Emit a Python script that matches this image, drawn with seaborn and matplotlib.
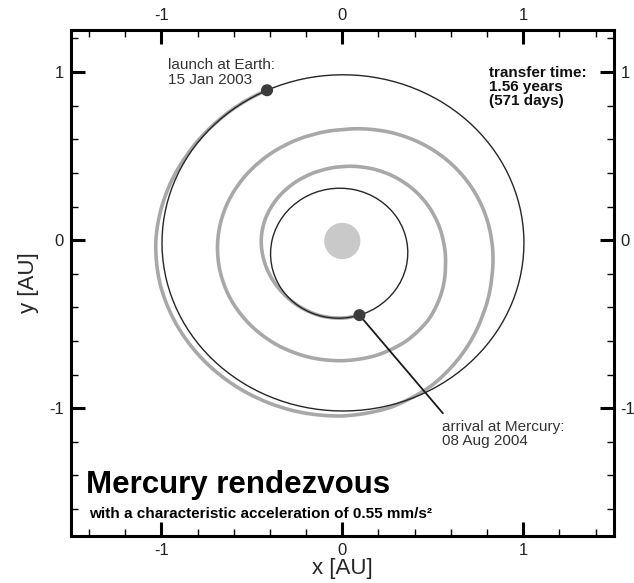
import numpy as np
import pandas as pd
import matplotlib
matplotlib.use("Agg")
import matplotlib.pyplot as plt
from matplotlib.patches import Ellipse
from matplotlib.ticker import MultipleLocator
import seaborn as sns

# ---- data -------------------------------------------------------------
# planetary orbits: semi-major axis [AU], eccentricity, longitude of perihelion [deg]
orbit_names = ["Earth", "Mercury"]
orbit_a = [1.000, 0.387]
orbit_e = [0.0167, 0.2056]
orbit_peri = [102.9, 77.5]

# sail trajectory: heliocentric longitude [deg] and radius [AU]
traj_theta = [115, 120, 135, 150, 165, 180, 195, 210, 225, 240, 255, 270,
              285, 300, 315, 330, 345, 360, 375, 390, 405, 420, 435, 450,
              465, 480, 495, 510, 525, 540, 555, 570, 585, 600, 615, 630,
              645, 660, 675, 690, 705, 720, 735, 750, 765, 780, 795, 810,
              825, 840, 855, 870, 885, 900, 915, 930, 945, 960, 975, 990, 1002]
traj_r = [0.984, 0.985, 0.988, 0.997, 1.013, 1.030, 1.040, 1.045, 1.048, 1.050, 1.050, 1.046,
          1.030, 0.995, 0.945, 0.895, 0.855, 0.825, 0.797, 0.768, 0.738, 0.708, 0.680, 0.657,
          0.648, 0.647, 0.652, 0.662, 0.675, 0.688, 0.700, 0.710, 0.716, 0.720, 0.720, 0.717,
          0.711, 0.697, 0.672, 0.632, 0.590, 0.557, 0.530, 0.506, 0.484, 0.465, 0.449, 0.437,
          0.431, 0.430, 0.433, 0.438, 0.444, 0.448, 0.449, 0.451, 0.455, 0.461, 0.466, 0.4637, 0.456]

# events
event_theta = [115, 282]
event_r = [0.984, 0.456]
event_labels = ["launch at Earth:\n15 Jan 2003", "arrival at Mercury:\n08 Aug 2004"]

sun_radius = 0.10

transfer_text = "transfer time:\n1.56 years\n(571 days)"
title_text = "Mercury rendezvous"
subtitle_text = "with a characteristic acceleration of 0.55 mm/s\u00b2"

xticks = [-1, 0, 1]
yticks = [-1, 0, 1]

# ---- style ------------------------------------------------------------
sns.set_theme(style="ticks")
plt.rcParams["font.family"] = ["Liberation Sans", "DejaVu Sans"]

FW, FH = 634, 583
fig = plt.figure(figsize=(FW / 100, FH / 100), dpi=100)
ax = fig.add_axes([0.1117, 0.0806, 0.9681 - 0.1117, 0.9485 - 0.0806])
ax.set_xlim(-1.5, 1.5)
ax.set_ylim(-1.76, 1.25)

# polar overlay sharing the same data mapping (for the spiral trajectory)
p0 = ax.transData.transform((0, 0))
sx = ax.transData.transform((1, 0))[0] - p0[0]
sy = ax.transData.transform((0, 1))[1] - p0[1]
rmax = 1.2
pax = fig.add_axes([(p0[0] - rmax * sx) / FW, (p0[1] - rmax * sy) / FH,
                    2 * rmax * sx / FW, 2 * rmax * sy / FH], projection="polar")
pax.set_aspect("auto")
pax.set_rlim(0, rmax)
pax.axis("off")
pax.patch.set_alpha(0)

traj = pd.DataFrame({"theta": np.deg2rad(np.array(traj_theta, dtype=float)),
                     "r": traj_r})
sns.lineplot(data=traj, x="theta", y="r", sort=False, estimator=None, ax=pax,
             color="#a8a8a8", lw=2.6)
for ln in pax.lines:
    ln.get_path()._interpolation_steps = 20
pax.set_rlim(0, rmax)
pax.set_zorder(1)
ax.set_zorder(2)
ax.patch.set_visible(False)

# planetary orbits
for name, a, e, w in zip(orbit_names, orbit_a, orbit_e, orbit_peri):
    wr = np.deg2rad(w)
    cx, cy = -a * e * np.cos(wr), -a * e * np.sin(wr)
    ell = Ellipse((cx, cy), 2 * a, 2 * a * np.sqrt(1 - e ** 2), angle=w,
                  fill=False, ec="#262626", lw=1.0, zorder=3)
    ax.add_patch(ell)

# sun
ax.add_patch(Ellipse((0, -0.005), 2 * sun_radius, 2 * sun_radius * 1.08,
                     fc="#c9c9c9", ec="none", zorder=1))

# events
eth = np.deg2rad(np.array(event_theta, dtype=float))
er = np.array(event_r)
ev = pd.DataFrame({"x": er * np.cos(eth), "y": er * np.sin(eth)})
ax.plot([ev.x[1], 0.556], [ev.y[1], -1.03], color="#1a1a1a", lw=1.3, zorder=4)
sns.scatterplot(data=ev, x="x", y="y", ax=ax, s=75, color="#3c3c3c",
                edgecolor="none", zorder=5, legend=False)

ax.text(-0.961, 0.997, event_labels[0], fontsize=11, color="#333333",
        ha="left", va="center", linespacing=1.05)
ax.text(0.549, -1.152, event_labels[1], fontsize=11, color="#333333",
        ha="left", va="center", linespacing=1.05)
ax.text(0.81, 0.913, transfer_text, fontsize=11, fontweight="bold",
        color="#111111", ha="left", va="center", linespacing=1.0)
ax.text(-1.414, -1.455, title_text, fontsize=22.5, fontweight="bold",
        color="black", ha="left", va="center")
ax.text(-1.40, -1.63, subtitle_text, fontsize=11, fontweight="bold",
        color="black", ha="left", va="center")

# axes
ax.set_xlim(-1.5, 1.5)
ax.set_ylim(-1.76, 1.25)
ax.set_xticks(xticks)
ax.set_yticks(yticks)
ax.set_xticklabels([str(t) for t in xticks])
ax.set_yticklabels([str(t) for t in yticks])
ax.xaxis.set_minor_locator(MultipleLocator(0.2))
ax.yaxis.set_minor_locator(MultipleLocator(0.2))
ax.tick_params(which="major", direction="in", length=10, width=2.2,
               top=True, right=True, labeltop=True, labelright=True,
               labelsize=12, pad=5, color="black", labelcolor="#222222")
ax.tick_params(which="minor", direction="in", length=5, width=1.0,
               top=True, right=True, color="black")
for s in ax.spines.values():
    s.set_linewidth(2.2)
    s.set_color("black")
ax.set_xlabel("x [AU]", fontsize=16, labelpad=0)
ax.set_ylabel("y [AU]", fontsize=16, labelpad=7)

fig.savefig("out.png", dpi=100, facecolor="white")
